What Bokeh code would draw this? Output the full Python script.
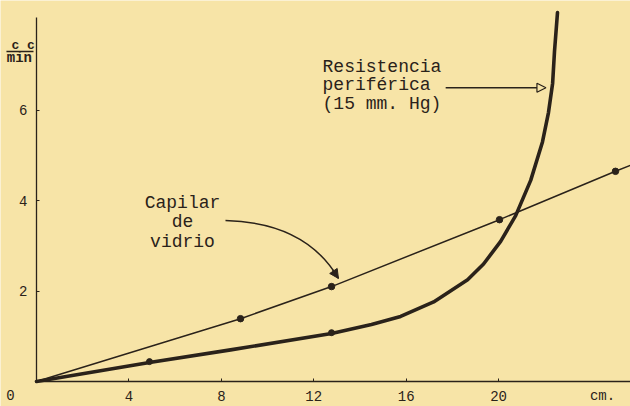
from bokeh.plotting import figure
from bokeh.models import Range1d, FixedTicker, Arrow, NormalHead
from bokeh.embed import file_html
from bokeh.resources import INLINE
from bokeh.core.properties import value

# ---- data ----
# "Capilar de vidrio" (thin, nearly straight line)
cap_x = [0, 8.83, 12.77, 20.04, 25.06, 25.75]
cap_y = [0, 1.39, 2.10, 3.58, 4.65, 4.79]
cap_dot_x = [8.83, 12.77, 20.04, 25.06]
cap_dot_y = [1.39, 2.10, 3.58, 4.65]

# "Resistencia periférica (15 mm. Hg)" (thick curve)
res_x = [0, 4.89, 8.40, 12.77, 14.50, 15.76, 17.19, 18.66, 19.35, 20.09, 20.74, 21.39, 21.90, 22.16, 22.34, 22.42, 22.55]
res_y = [0, 0.42, 0.70, 1.06, 1.26, 1.44, 1.76, 2.25, 2.60, 3.10, 3.67, 4.45, 5.30, 5.95, 6.60, 7.30, 8.16]
res_dot_x = [4.89, 12.77]
res_dot_y = [0.44, 1.08]

x_ticks = [4, 8, 12, 16, 20]
y_ticks = [2, 4, 6]

res_text = ["Resistencia", "periférica", "(15 mm. Hg)"]
cap_text = ["Capilar", "de", "vidrio"]

BG = "#F7E4A7"
INK = "#2a221a"
FONT = "Liberation Mono"

p = figure(width=630, height=406, output_backend="svg", toolbar_location=None,
           x_range=Range1d(-1.558, 25.71), y_range=Range1d(-0.553, 8.429),
           background_fill_color=BG, border_fill_color=BG,
           min_border_left=0, min_border_right=0, min_border_top=0, min_border_bottom=0)
p.outline_line_color = None
p.grid.grid_line_color = None

for ax in (p.xaxis[0], p.yaxis[0]):
    ax.fixed_location = 0
    ax.axis_line_color = INK
    ax.axis_line_width = 1.3
    ax.major_tick_line_color = INK
    ax.major_tick_out = 0
    ax.major_tick_in = 3
    ax.minor_tick_line_color = None
    ax.major_label_text_font = FONT
    ax.major_label_text_color = INK
    ax.major_label_text_font_size = "14px"

p.xaxis.ticker = FixedTicker(ticks=x_ticks)
p.xaxis.major_label_standoff = 9
p.xaxis.bounds = (0, 25.71)
p.yaxis.ticker = FixedTicker(ticks=y_ticks)
p.yaxis.major_label_standoff = 9
p.yaxis.bounds = (0, 8.06)

# curves
p.line(res_x, res_y, line_color=INK, line_width=3.6, line_cap="round", line_join="round")
p.scatter(res_dot_x, res_dot_y, size=6, color=INK)
p.line(cap_x, cap_y, line_color=INK, line_width=1.5)
p.scatter(cap_dot_x, cap_dot_y, size=6.5, color=INK)

# annotation texts
p.text(x=[12.38] * 3, y=[6.95, 6.55, 6.15], text=res_text, text_font=value(FONT),
       text_font_size="18px", text_color=INK, text_align="left", text_baseline="middle")
p.text(x=[6.32] * 3, y=[3.96, 3.52, 3.08], text=cap_text, text_font=value(FONT),
       text_font_size="18px", text_color=INK, text_align="center", text_baseline="middle")

# arrow to resistencia curve
p.add_layout(Arrow(x_start=17.71, y_start=6.5, x_end=22.05, y_end=6.5,
                   line_color=INK, line_width=1.5,
                   end=NormalHead(size=9, fill_color=BG, line_color=INK, line_width=1.2)))

# curved arrow to capilar line
p.quadratic(x0=[8.18], y0=[3.56], x1=[13.07], y1=[2.28], cx=[11.65], cy=[3.52],
            line_color=INK, line_width=1.5)
p.add_layout(Arrow(x_start=12.82, y_start=2.47, x_end=13.07, y_end=2.28,
                   line_color=INK, line_width=1.5,
                   end=NormalHead(size=9, fill_color=INK, line_color=INK)))

# axis extras: "0", "cm.", unit label cc/min
p.text(x=[-1.13, 24.5], y=[-0.29, -0.33], text=["0", "cm."], text_font=value(FONT),
       text_font_size="14px", text_color=INK, text_align="center", text_baseline="middle")
p.text(x=[-0.58], y=[7.43], text=["c c"], text_font=value(FONT), text_font_size="13px",
       text_font_style="bold", text_color=INK, text_align="center", text_baseline="middle")
p.segment(x0=[-1.30], y0=[7.30], x1=[-0.13], y1=[7.30], line_color=INK, line_width=1.5)
p.text(x=[-0.74], y=[7.15], text=["min"], text_font=value(FONT), text_font_size="14px",
       text_font_style="bold", text_color=INK, text_align="center", text_baseline="middle")

open("out.html", "w").write(file_html(p, INLINE))
